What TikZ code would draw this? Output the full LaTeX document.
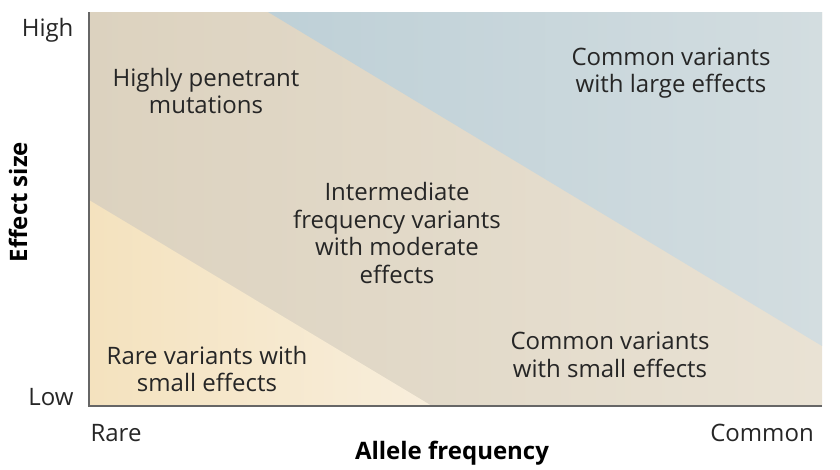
\documentclass[tikz,border=0pt]{standalone}
\usepackage{fontspec}
\setmainfont{Open Sans}
\definecolor{beigeL}{HTML}{DCD2BF}
\definecolor{beigeR}{HTML}{E9E2D4}
\definecolor{yelL}{HTML}{F4E2BE}
\definecolor{yelR}{HTML}{F8EEDC}
\definecolor{blueL}{HTML}{BED0D7}
\definecolor{blueR}{HTML}{D3DDE0}
\begin{document}
\begin{tikzpicture}[x=1pt,y=-1pt,
		zone/.style={align=center,font=\fontsize{24}{27.5}\selectfont,text=black!85},
		tick/.style={font=\fontsize{24}{26}\selectfont,text=black!85},
		axtitle/.style={font=\fontsize{24}{26}\selectfont\bfseries}]
		\useasboundingbox (0,0) rectangle (840,469);
		% regions
		\shade[left color=beigeL,right color=beigeR] (89,12) rectangle (822,406);
		\shade[left color=yelL,right color=yelR] (89,200) -- (432,406) -- (89,406) -- cycle;
		\shade[left color=blueL,right color=blueR] (268,12) -- (822,12) -- (822,346) -- cycle;
		% axes
		\coordinate (top) at (89,12);
		\coordinate (orig) at (89,406);
		\coordinate (end) at (822,406);
		\draw[gray!80!black,line width=1.4pt] (top) -- (orig) -- (end);
		% labels
		\node [tick,anchor=east] (high) at (77,30) {High};
		\node [tick,anchor=east] (low) at (77,397) {Low};
		\node [tick] (rare) at (116,433) {Rare};
		\node [tick] (common) at (762,433) {Common};
		\node [axtitle] (xlab) at (452,453) {Allele frequency};
		\node [axtitle,rotate=90] (ylab) at (18,202) {Effect size};
		\node [zone] (hpm) at (206,91) {Highly penetrant\\mutations};
		\node [zone] (cvl) at (671,73) {Common variants\\with large effects};
		\node [zone] (ifv) at (397,233) {Intermediate\\frequency variants\\with moderate\\effects};
		\node [zone] (rvs) at (207,369) {Rare variants with\\small effects};
		\node [zone] (cvs) at (610,355) {Common variants\\with small effects};
	\end{tikzpicture}
\end{document}
